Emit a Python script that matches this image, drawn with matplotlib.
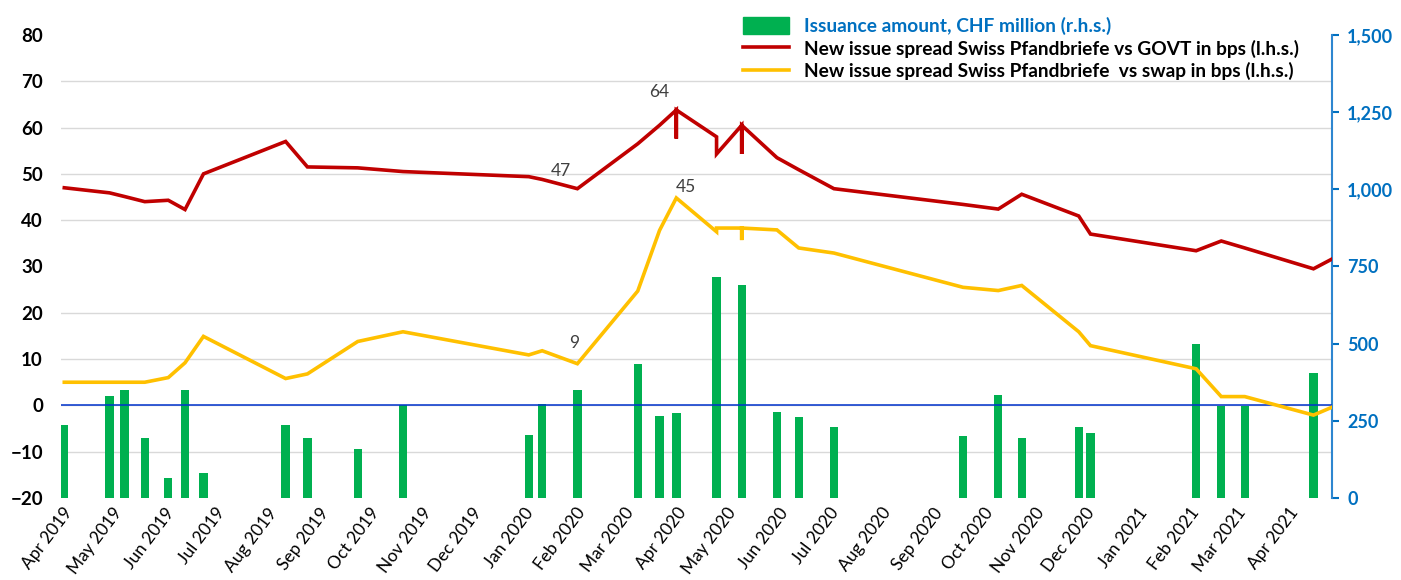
import numpy as np
import pandas as pd
import matplotlib
matplotlib.use("Agg")
import matplotlib.pyplot as plt
import matplotlib.dates as mdates
from matplotlib.ticker import MultipleLocator, FuncFormatter
from matplotlib.patches import Patch
from matplotlib.lines import Line2D

# one row per new issue (several issues can share a pricing date)
issue_dates = [
    "2019-04-02", "2019-04-29", "2019-05-08", "2019-05-20", "2019-06-03",
    "2019-06-13", "2019-06-24", "2019-08-12", "2019-08-25", "2019-09-24",
    "2019-10-21", "2020-01-04", "2020-01-12", "2020-02-02", "2020-03-09",
    "2020-03-22", "2020-04-01", "2020-04-01", "2020-04-01", "2020-04-25",
    "2020-04-25", "2020-05-10", "2020-05-10", "2020-05-10", "2020-05-31",
    "2020-06-13", "2020-07-04", "2020-09-19", "2020-10-10", "2020-10-24",
    "2020-11-27", "2020-12-04", "2021-02-05", "2021-02-20", "2021-03-06",
    "2021-04-16", "2021-04-27",
]
amount_chf_m = [
    235, 330, 350, 195, 65,
    350, 80, 235, 195, 160,
    300, 205, 305, 350, 435,
    265, 275, 255, 275, 715,
    400, 690, 560, 300, 280,
    262, 230, 200, 335, 195,
    230, 210, 500, 298, 298,
    405, np.nan,
]
spread_govt = [
    47.0, 45.9, 45.1, 44.0, 44.3,
    42.3, 50.0, 57.0, 51.5, 51.3,
    50.5, 49.4, 48.8, 46.8, 56.5,
    60.5, 63.8, 57.6, 63.8, 58.0,
    54.3, 60.5, 54.3, 60.5, 53.5,
    50.9, 46.8, 43.4, 42.4, 45.6,
    40.9, 37.0, 33.4, 35.5, 34.0,
    29.5, 31.6,
]
spread_swap = [
    5.0, 5.0, 5.0, 5.0, 6.0,
    9.2, 14.9, 5.8, 6.8, 13.8,
    15.9, 10.9, 11.8, 9.0, 24.7,
    37.8, 44.8, 44.8, 44.8, 37.5,
    38.3, 38.3, 35.7, 38.3, 37.9,
    34.0, 32.9, 25.5, 24.8, 25.9,
    15.9, 12.9, 7.9, 1.9, 1.9,
    -2.1, -0.4,
]
# issues whose spreads carry a value label
labelled_issues = [13, 16]

legend_labels = [
    "Issuance amount, CHF million (r.h.s.)",
    "New issue spread Swiss Pfandbriefe vs GOVT in bps (l.h.s.)",
    "New issue spread Swiss Pfandbriefe  vs swap in bps (l.h.s.)",
]

GREEN = "#00B050"
RED = "#C00000"
YELLOW = "#FFC000"
BLUE = "#0070C0"

plt.rcParams["font.family"] = ["Lato", "DejaVu Sans"]
plt.rcParams["font.weight"] = "bold"

dates = pd.to_datetime(issue_dates)

fig = plt.figure(figsize=(14.01, 5.80), dpi=100)
ax2 = fig.add_axes([0.0435, 0.1414, 0.9072, 0.7983])  # bars, r.h.s.
ax1 = ax2.twinx()                                     # spreads, l.h.s.
ax1.yaxis.tick_left()
ax2.yaxis.tick_right()
ax1.set_zorder(ax2.get_zorder() + 1)
ax1.patch.set_visible(False)

# issuance bars
ax2.bar(dates, amount_chf_m, width=5.0, color=GREEN, zorder=2)
ax2.set_ylim(0, 1500)
ax2.yaxis.set_major_locator(MultipleLocator(250))
ax2.yaxis.set_minor_locator(MultipleLocator(150))
ax2.yaxis.set_major_formatter(FuncFormatter(lambda v, p: f"{v:,.0f}"))
ax2.grid(which="minor", axis="y", color="#D9D9D9", lw=1.0, zorder=0)
ax2.tick_params(axis="y", which="major", colors=BLUE, length=5, width=1.5,
                labelsize=13, pad=6)
ax2.tick_params(axis="y", which="minor", length=0)
for side in ["left", "top", "bottom"]:
    ax2.spines[side].set_visible(False)
ax2.spines["right"].set_color("#2E86D0")
ax2.spines["right"].set_linewidth(1.5)

# monthly date axis
ax2.set_xlim(pd.Timestamp("2019-03-31"), pd.Timestamp("2021-04-27"))
ax2.xaxis.set_major_locator(mdates.MonthLocator())
ax2.xaxis.set_major_formatter(mdates.DateFormatter("%b %Y"))
ax2.tick_params(axis="x", length=0, pad=5)
for lab in ax2.get_xticklabels():
    lab.set_rotation(53)
    lab.set_ha("right")
    lab.set_rotation_mode("anchor")
    lab.set_fontsize(12.5)
    lab.set_fontweight("normal")

# spread lines
ax1.plot(dates, spread_govt, color=RED, lw=2.6, solid_joinstyle="miter", zorder=3)
ax1.plot(dates, spread_swap, color=YELLOW, lw=2.6, solid_joinstyle="miter", zorder=3)
ax1.axhline(0, color="#0033CC", lw=1.1, zorder=2)
ax1.set_ylim(-20, 80)
ax1.yaxis.set_major_locator(MultipleLocator(10))
ax1.tick_params(axis="y", length=0, labelsize=13.5, pad=13)
for side in ["left", "top", "bottom", "right"]:
    ax1.spines[side].set_visible(False)

label_style = dict(textcoords="offset points", ha="center", va="center",
                   fontsize=12.5, fontweight="normal", color="#404040")
for i in labelled_issues:
    ax1.annotate(f"{spread_govt[i]:.0f}", (dates[i], spread_govt[i]),
                 xytext=(-12, 13), **label_style)
ax1.annotate(f"{spread_swap[13]:.0f}", (dates[13], spread_swap[13]),
             xytext=(-2, 15), **label_style)
ax1.annotate(f"{spread_swap[16]:.0f}", (dates[16], spread_swap[16]),
             xytext=(7, 8), **label_style)

handles = [
    Patch(facecolor=GREEN, edgecolor=GREEN),
    Line2D([], [], color=RED, lw=2.6),
    Line2D([], [], color=YELLOW, lw=2.6),
]
leg = fig.legend(handles, legend_labels, loc="upper left",
                 bbox_to_anchor=(0.518, 1.0), frameon=False,
                 prop={"size": 13.8, "weight": "bold"}, handlelength=2.4,
                 handleheight=1.0, handletextpad=0.8, labelspacing=0.22)
leg.get_texts()[0].set_color(BLUE)

fig.savefig("out.png", dpi=100)
